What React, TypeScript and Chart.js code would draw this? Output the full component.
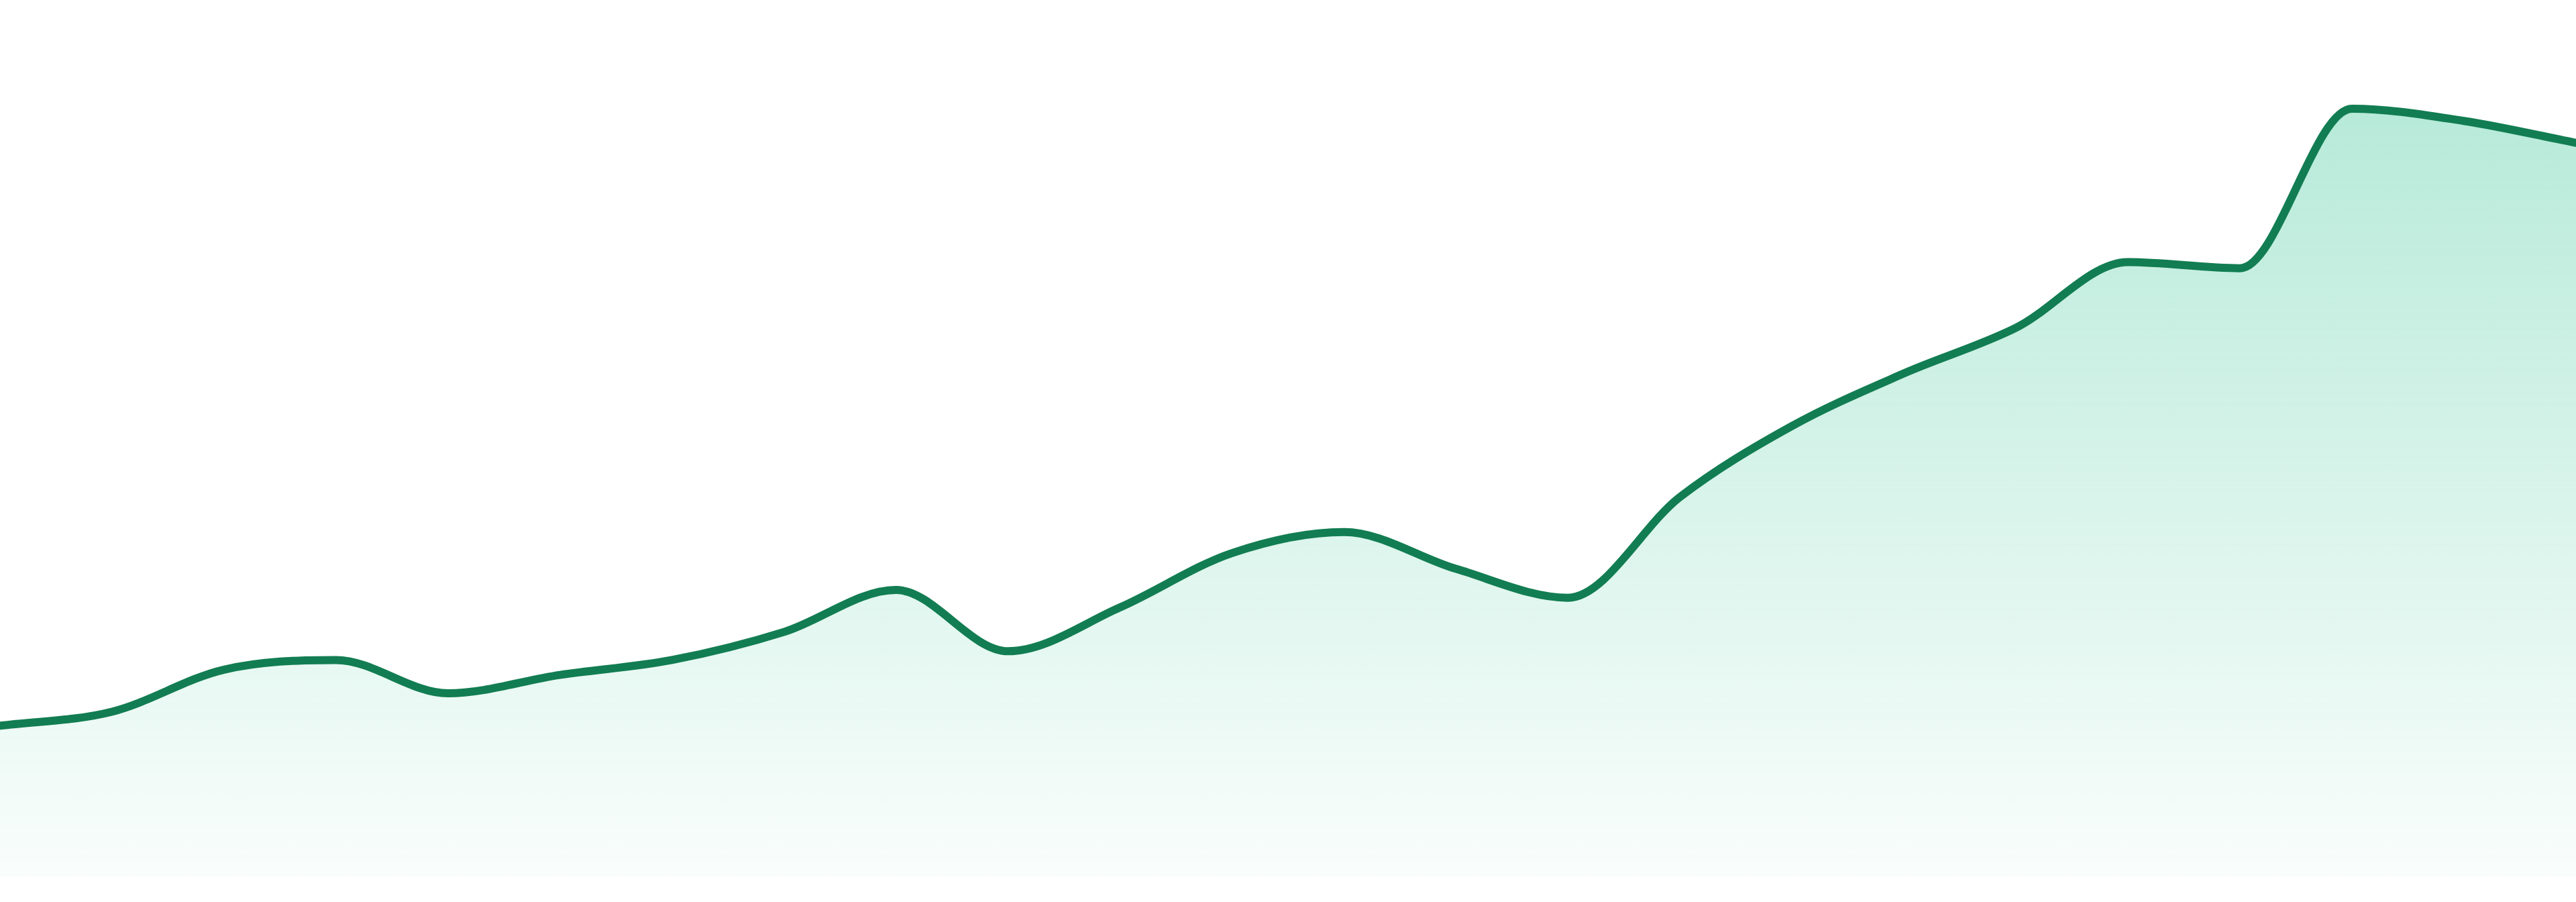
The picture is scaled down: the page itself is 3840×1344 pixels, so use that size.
import { useEffect, useRef } from 'react';
import Chart from 'chart.js/auto';

// 24 periods, values on a 0-100 scale
const labels = [
  'Jan 23', 'Feb 23', 'Mar 23', 'Apr 23', 'May 23', 'Jun 23',
  'Jul 23', 'Aug 23', 'Sep 23', 'Oct 23', 'Nov 23', 'Dec 23',
  'Jan 24', 'Feb 24', 'Mar 24', 'Apr 24', 'May 24', 'Jun 24',
  'Jul 24', 'Aug 24', 'Sep 24', 'Oct 24', 'Nov 24', 'Dec 24',
];

const values = [
  17.2, 18.8, 23.6, 24.7, 20.9, 23.0,
  24.7, 27.9, 32.7, 25.7, 30.7, 36.9,
  39.3, 35.1, 31.8, 43.3, 51.4, 57.4,
  62.6, 70.1, 69.4, 87.6, 86.2, 83.7,
];

const yMin = 0;
const yMax = 100;

const lineColor = '#127d52';

export default function App() {
  const chartRef = useRef<HTMLCanvasElement>(null);
  const chartInstance = useRef<Chart | null>(null);

  useEffect(() => {
    document.body.style.margin = '0';
    if (!chartRef.current) return;

    if (chartInstance.current) {
      chartInstance.current.destroy();
    }

    const ctx = chartRef.current.getContext('2d');
    if (!ctx) return;

    chartInstance.current = new Chart(ctx, {
      type: 'line',
      data: {
        labels,
        datasets: [
          {
            label: 'Value',
            data: values,
            borderColor: lineColor,
            borderWidth: 12,
            borderJoinStyle: 'round',
            borderCapStyle: 'round',
            cubicInterpolationMode: 'monotone',
            pointRadius: 0,
            fill: 'start',
            backgroundColor: (context: any) => {
              const area = context.chart.chartArea;
              if (!area) return 'rgba(16, 185, 129, 0.2)';
              const g = context.chart.ctx.createLinearGradient(0, area.top, 0, area.bottom);
              g.addColorStop(0, 'rgba(16, 185, 129, 0.34)');
              g.addColorStop(1, 'rgba(16, 185, 129, 0.025)');
              return g;
            },
          },
        ],
      },
      options: {
        animation: false,
        responsive: true,
        maintainAspectRatio: false,
        layout: {
          padding: { top: 0, right: 0, bottom: 38, left: 0 },
        },
        plugins: {
          legend: { display: false },
          tooltip: { enabled: false },
        },
        scales: {
          x: { display: false },
          y: { display: false, min: yMin, max: yMax },
        },
      },
    });

    return () => {
      if (chartInstance.current) {
        chartInstance.current.destroy();
        chartInstance.current = null;
      }
    };
  }, []);

  return (
    <div style={{ width: 3840, height: 1344, position: 'relative', background: '#ffffff' }}>
      <canvas ref={chartRef} />
    </div>
  );
}
